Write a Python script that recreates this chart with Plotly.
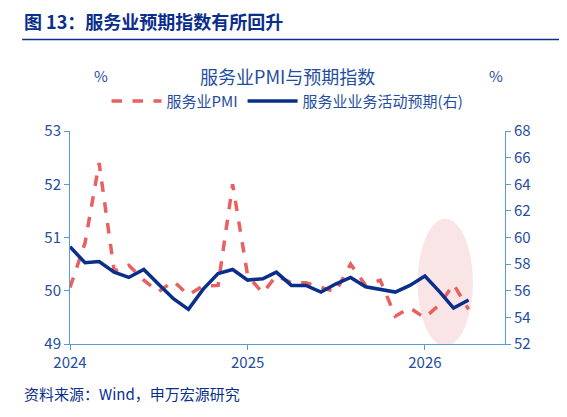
import plotly.graph_objects as go
import pandas as pd

months = pd.date_range('2024-01-01', periods=28, freq='MS')

pmi = [50.06, 50.9, 52.4, 50.37, 50.48, 50.2, 49.98, 50.18, 49.92, 50.09, 50.1, 52.0,
       50.28, 49.96, 50.28, 50.15, 50.15, 50.07, 49.98, 50.5, 50.1, 50.2, 49.52, 49.68,
       49.49, 49.75, 50.12, 49.65]
expect = [59.3, 58.1, 58.2, 57.4, 57.0, 57.6, 56.5, 55.4, 54.6, 56.1, 57.3, 57.6,
          56.8, 56.9, 57.4, 56.4, 56.4, 55.9, 56.5, 57.0, 56.3, 56.1, 55.9, 56.4,
          57.1, 55.9, 54.7, 55.3]

tick_vals = ['2024-01-01', '2025-01-01', '2026-01-01']
tick_text = ['2024', '2025', '2026']

blue = '#1f4ea0'
font = 'Noto Sans CJK SC'

fig = go.Figure()
fig.add_trace(go.Scatter(x=months, y=pmi, name='服务业PMI', mode='lines',
                         line=dict(color='#e8605f', width=3.5, dash='dash')))
fig.add_trace(go.Scatter(x=months, y=expect, name='服务业业务活动预期(右)', mode='lines',
                         yaxis='y2', line=dict(color='#0a2e8c', width=3.5)))

# highlight ellipse
fig.add_shape(type='circle', xref='x', yref='y', x0='2025-12-17', x1='2026-04-10',
              y0=48.96, y1=51.35, fillcolor='rgba(232,150,150,0.25)', line_width=0,
              layer='below')

fig.update_layout(
    width=567, height=417,
    margin=dict(l=62, r=70, t=123, b=81),
    plot_bgcolor='white', paper_bgcolor='white',
    font=dict(family=font, color=blue, size=15),
    showlegend=True,
    legend=dict(orientation='h', x=0.5, xanchor='center', y=1.14, yanchor='middle',
                font=dict(size=15, color=blue), itemwidth=50),
    xaxis=dict(range=['2024-01-01', '2026-06-15'], tickvals=tick_vals, ticktext=tick_text,
               showgrid=False, showline=True, linecolor='#5b9bd5', ticks='outside',
               tickcolor='#5b9bd5', ticklen=5, tickfont=dict(size=15, color=blue)),
    yaxis=dict(range=[49, 53], dtick=1, showgrid=False, showline=True, linecolor='#5b9bd5',
               ticks='outside', tickcolor='#5b9bd5', ticklen=5, tickfont=dict(size=15, color=blue),
               zeroline=False),
    yaxis2=dict(range=[52, 68], dtick=2, overlaying='y', side='right', showgrid=False,
                showline=True, linecolor='#5b9bd5', ticks='outside', tickcolor='#5b9bd5',
                ticklen=5, tickfont=dict(size=15, color=blue), zeroline=False),
)

fig.add_annotation(text='<b>图 13：服务业预期指数有所回升</b>', xref='paper', yref='paper',
                   x=-0.11, y=1.0, yshift=110, xanchor='left', yanchor='middle',
                   showarrow=False, font=dict(size=18, color='#0a2e8c'))
fig.add_shape(type='line', xref='paper', yref='paper', x0=-0.11, x1=1.16,
              y0=1.43, y1=1.43, line=dict(color='#0a2e8c', width=1.5))
fig.add_annotation(text='服务业PMI与预期指数', xref='paper', yref='paper', x=0.5, y=1.0,
                   yshift=70, showarrow=False, font=dict(size=18, color=blue))
fig.add_annotation(text='%', xref='paper', yref='paper', x=0.05, y=1.0, yshift=68,
                   showarrow=False, font=dict(size=15, color=blue))
fig.add_annotation(text='%', xref='paper', yref='paper', x=1.0, y=1.0, yshift=68,
                   showarrow=False, font=dict(size=15, color=blue))
fig.add_annotation(text='资料来源：Wind，申万宏源研究', xref='paper', yref='paper',
                   x=-0.11, y=0, yshift=-62, xanchor='left', showarrow=False,
                   font=dict(size=15, color='#0a2e8c'))

fig.write_html('out.html')
